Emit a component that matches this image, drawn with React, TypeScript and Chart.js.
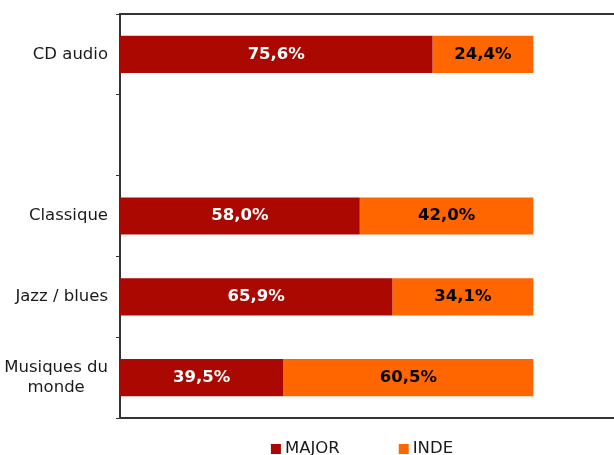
import React, { useEffect, useRef } from "react";
import { Chart, registerables } from "chart.js";

Chart.register(...registerables);

const categories: (string | string[])[] = ["CD audio", "", "Classique", "Jazz / blues", ["Musiques du", "monde"]];
const majorValues: (number | null)[] = [75.6, null, 58.0, 65.9, 39.5];
const indeValues: (number | null)[] = [24.4, null, 42.0, 34.1, 60.5];
const seriesNames = ["MAJOR", "INDE"];
const seriesColors = ["#AA0800", "#FF6600"];
const labelColors = ["#FFFFFF", "#000000"];

const FONT = "'DejaVu Sans', Verdana, sans-serif";
const TEXT = "#1a1a1a";
const TICK_SIZE = 16.5;
const LINE_H = 20;

const fmt = (v: number) => v.toFixed(1).replace(".", ",") + "%";

const valueLabels = {
  id: "valueLabels",
  afterDatasetsDraw(chart: any) {
    const ctx = chart.ctx;
    ctx.save();
    ctx.font = `bold 16.5px ${FONT}`;
    ctx.textAlign = "center";
    ctx.textBaseline = "middle";
    chart.data.datasets.forEach((ds: any, di: number) => {
      const meta = chart.getDatasetMeta(di);
      meta.data.forEach((el: any, i: number) => {
        const v = ds.data[i];
        if (v == null) return;
        const { x, y, base } = el.getProps(["x", "y", "base"], true);
        ctx.fillStyle = labelColors[di];
        ctx.fillText(fmt(v), (x + base) / 2, y);
      });
    });
    ctx.restore();
  },
};

// Category labels: right-aligned block, lines centred within the block
const categoryLabels = {
  id: "categoryLabels",
  afterDraw(chart: any) {
    const ctx = chart.ctx;
    const scale = chart.scales.y;
    ctx.save();
    ctx.font = `${TICK_SIZE}px ${FONT}`;
    ctx.fillStyle = TEXT;
    ctx.textBaseline = "middle";
    ctx.textAlign = "center";
    const right = scale.right - 4 - 8;
    (chart.data.labels as any[]).forEach((lab: any, i: number) => {
      const lines: string[] = Array.isArray(lab) ? lab : [lab];
      if (!lines.join("")) return;
      const maxW = Math.max(...lines.map((l) => ctx.measureText(l).width));
      const cx = right - maxW / 2;
      const cy = scale.getPixelForValue(i);
      const y0 = cy - ((lines.length - 1) * LINE_H) / 2;
      lines.forEach((l, k) => ctx.fillText(l, cx, y0 + k * LINE_H));
    });
    ctx.restore();
  },
};

const customLegend = {
  id: "customLegend",
  afterDraw(chart: any) {
    const ctx = chart.ctx;
    const area = chart.chartArea;
    ctx.save();
    ctx.font = `16.5px ${FONT}`;
    ctx.textBaseline = "middle";
    ctx.textAlign = "left";
    const y = area.bottom + 30;
    const box = 10;
    const gap = 4;
    const spacing = 59;
    const widths = chart.data.datasets.map((ds: any) => box + gap + ctx.measureText(ds.label).width);
    const total = widths.reduce((a: number, b: number) => a + b, 0) + spacing * (widths.length - 1);
    let x = (area.left + area.right) / 2 - total / 2 - 5;
    chart.data.datasets.forEach((ds: any, i: number) => {
      ctx.fillStyle = ds.backgroundColor;
      ctx.fillRect(x, y - box / 2 + 1, box, box);
      ctx.fillStyle = TEXT;
      ctx.fillText(ds.label, x + box + gap, y + 1);
      x += widths[i] + spacing;
    });
    ctx.restore();
  },
};

export default function App() {
  const ref = useRef<HTMLCanvasElement>(null);
  useEffect(() => {
    if (!ref.current) return;
    const chart = new Chart(ref.current, {
      type: "bar",
      data: {
        labels: categories,
        datasets: [
          { label: seriesNames[0], data: majorValues, backgroundColor: seriesColors[0], barPercentage: 0.46, categoryPercentage: 1 },
          { label: seriesNames[1], data: indeValues, backgroundColor: seriesColors[1], barPercentage: 0.46, categoryPercentage: 1 },
        ],
      },
      options: {
        indexAxis: "y",
        animation: false,
        responsive: false,
        maintainAspectRatio: false,
        layout: { padding: { top: 14, bottom: 37, left: 0, right: 0 } },
        plugins: { legend: { display: false }, tooltip: { enabled: false } },
        scales: {
          x: {
            stacked: true,
            min: 0,
            max: 119.5,
            position: "bottom",
            ticks: { display: false },
            grid: { display: false },
            border: { display: true, color: "#333", width: 2 },
            afterFit: (s: any) => { s.height = 0; s.paddingLeft = 0; s.paddingRight = 0; },
          },
          x2: {
            type: "linear",
            min: 0,
            max: 1,
            position: "top",
            ticks: { display: false },
            grid: { display: false },
            border: { display: true, color: "#333", width: 2 },
            afterFit: (s: any) => { s.height = 0; s.paddingLeft = 0; s.paddingRight = 0; },
          },
          y: {
            stacked: true,
            ticks: { display: false },
            grid: { drawOnChartArea: false, offset: true, tickLength: 4, color: "#333", tickColor: "#333" },
            border: { display: true, color: "#333", width: 2 },
            afterFit: (s: any) => { s.width = 120; s.paddingTop = 0; s.paddingBottom = 0; },
          },
        },
      },
      plugins: [valueLabels, categoryLabels, customLegend],
    });
    return () => chart.destroy();
  }, []);
  return (
    <div style={{ position: "absolute", left: 0, top: 0, width: 614, height: 455, background: "#fff" }}>
      <canvas ref={ref} width={614} height={455} />
    </div>
  );
}
